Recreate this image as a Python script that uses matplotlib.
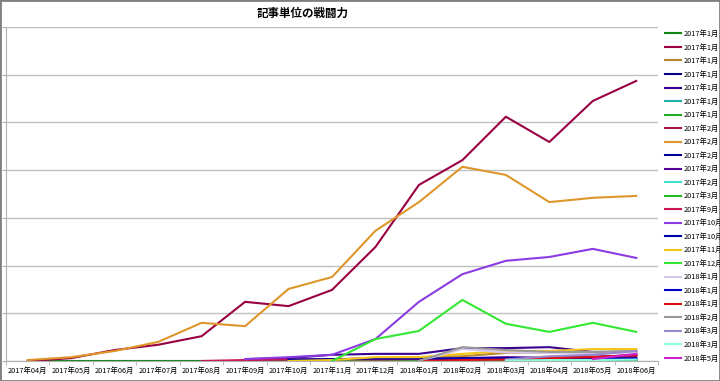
import matplotlib
matplotlib.use("Agg")
import matplotlib.pyplot as plt
import matplotlib.patches as mpatches
import numpy as np

plt.rcParams['font.family'] = ['Noto Sans CJK JP', 'DejaVu Sans']

nan = np.nan

# Categories (x axis)
months = ["2017年04月", "2017年05月", "2017年06月", "2017年07月", "2017年08月",
          "2017年09月", "2017年10月", "2017年11月", "2017年12月", "2018年01月",
          "2018年02月", "2018年03月", "2018年04月", "2018年05月", "2018年06月"]

# Series (legend order), gridline step = 100
s01 = [1, 1, 1, 1, 1, 1, 1, 1, 1, 1, 1, 1, 1, 1, 1]
s02 = [0, 6, 23, 34, 52, 124, 115, 149, 239, 369, 421, 512, 459, 545, 587]
s03 = [nan, nan, nan, nan, nan, nan, 1, 3, 6, 8, 10, 17, 18, 18, 20]
s04 = [nan, nan, nan, nan, nan, nan, nan, nan, 1, 2, 2, 2, 1, 1, 1]
s05 = [nan, nan, nan, nan, nan, 4, 6, 13, 15, 15, 27, 27, 29, 19, 19]
s06 = [nan, nan, nan, nan, nan, nan, nan, nan, nan, nan, 2, 2, 2, 2, 2]
s07 = [nan, nan, nan, nan, nan, nan, nan, 0, 1, 1, 1, 1, 1, 1, 1]
s08 = [nan, nan, nan, nan, nan, nan, nan, nan, nan, nan, 3, 5, 6, 7, 9]
s09 = [2, 8, 21, 40, 80, 73, 151, 176, 273, 333, 407, 390, 333, 342, 346]
s10 = [nan, nan, nan, nan, nan, nan, nan, nan, nan, nan, 1, 1, 1, 1, 1]
s11 = [nan, nan, nan, nan, nan, nan, nan, nan, nan, nan, 6, 8, 7, 9, 12]
s12 = [nan, nan, nan, nan, nan, nan, nan, nan, nan, nan, nan, 1, 1, 2, 3]
s13 = [nan, nan, nan, nan, nan, nan, 0, 1, 1, 1, 1, 1, 1, 1, 1]
s14 = [nan, nan, nan, nan, 0, 2, 3, 4, 3, 4, 5, 5, 6, 8, 12]
s15 = [nan, nan, nan, nan, nan, 4, 8, 13, 46, 124, 182, 210, 218, 235, 216]
s16 = [nan, nan, nan, nan, nan, nan, 3, 4, 5, 5, 6, 6, 6, 5, 6]
s17 = [nan, nan, nan, nan, nan, nan, 0, 2, 8, 8, 15, 21, 21, 25, 25]
s18 = [nan, nan, nan, nan, nan, nan, nan, 0, 46, 63, 128, 78, 61, 80, 61]
s19 = [nan, nan, nan, nan, nan, nan, nan, nan, nan, 0, 25, 18, 17, 16, 18]
s20 = [nan, nan, nan, nan, nan, nan, nan, nan, nan, 0, 4, 5, 4, 4, 4]
s21 = [nan, nan, nan, nan, nan, nan, nan, nan, nan, 0, 2, 3, 6, 8, 13]
s22 = [nan, nan, nan, nan, nan, nan, nan, nan, nan, 0, 29, 23, 19, 19, 21]
s23 = [nan, nan, nan, nan, nan, nan, nan, nan, nan, nan, nan, 3, 10, 13, 21]
s24 = [nan, nan, nan, nan, nan, nan, nan, nan, nan, nan, nan, 1, 2, 2, 3]
s25 = [nan, nan, nan, nan, nan, nan, nan, nan, nan, nan, nan, nan, nan, 4, 15]

labels = ["2017年1月"] * 7 + ["2017年2月"] * 5 + ["2017年3月", "2017年9月",
          "2017年10月", "2017年10月", "2017年11月", "2017年12月",
          "2018年1月", "2018年1月", "2018年1月", "2018年2月",
          "2018年3月", "2018年3月", "2018年5月"]
colors = ["#118811", "#990044", "#B8862B", "#000080", "#3A0090", "#20B2AA",
          "#22AA22", "#AA1144", "#DE962A", "#000099", "#550099", "#40E0D0",
          "#22BB22", "#CC1155", "#8A3BE2", "#0000AA", "#F5C518", "#33E833",
          "#D8C8F0", "#0000CC", "#DD1111", "#999999", "#9988CC", "#88FFDD",
          "#CC22CC"]
series = [s01, s02, s03, s04, s05, s06, s07, s08, s09, s10, s11, s12, s13,
          s14, s15, s16, s17, s18, s19, s20, s21, s22, s23, s24, s25]

# Figure
fig = plt.figure(figsize=(7.2, 3.81), dpi=100)
ax = fig.add_axes([6 / 720, 1 - 361 / 381, 652 / 720, 334 / 381])

x = np.arange(len(months))
handles = []
for vals, col, lab in zip(series, colors, labels):
    h, = ax.plot(x, vals, color=col, lw=1.5, label=lab, solid_joinstyle="round")
    handles.append(h)

# Axes styling
ax.set_xlim(-0.5, len(months) - 0.5)
ax.set_ylim(0, 700)
ax.set_yticks(np.arange(0, 701, 100))
ax.yaxis.grid(True, color="#C0C0C0", lw=1)
ax.set_axisbelow(True)
ax.tick_params(axis="y", labelleft=False, length=3, color="#B0B0B0")
ax.set_xticks(x)
ax.set_xticklabels(months, fontsize=5.3)
ax.set_xticks(np.arange(-0.5, len(months), 1), minor=True)
ax.tick_params(axis="x", which="major", length=0, pad=4)
ax.tick_params(axis="x", which="minor", length=3, color="#B0B0B0")
for side in ["top", "right"]:
    ax.spines[side].set_visible(False)
ax.spines["left"].set_color("#B0B0B0")
ax.spines["bottom"].set_color("#B0B0B0")

# Title
fig.text(0.42, 0.966, "記事単位の戦闘力", ha="center", va="center",
         fontsize=8.3, fontweight="bold")

# Legend (the right edge clips the longer labels, as in the source chart)
fig.legend(handles=handles, loc="upper left", bbox_to_anchor=(665 / 720, 1 - 30 / 381),
           fontsize=5.3, frameon=False, handlelength=2.2, handletextpad=0.4,
           labelspacing=0.75, borderaxespad=0, borderpad=0)

# Chart frame
fig.patches.append(mpatches.Rectangle((0, 0), 1, 1, transform=fig.transFigure,
                                      fill=False, ec="#808080", lw=2))

fig.savefig("out.png", dpi=100)
